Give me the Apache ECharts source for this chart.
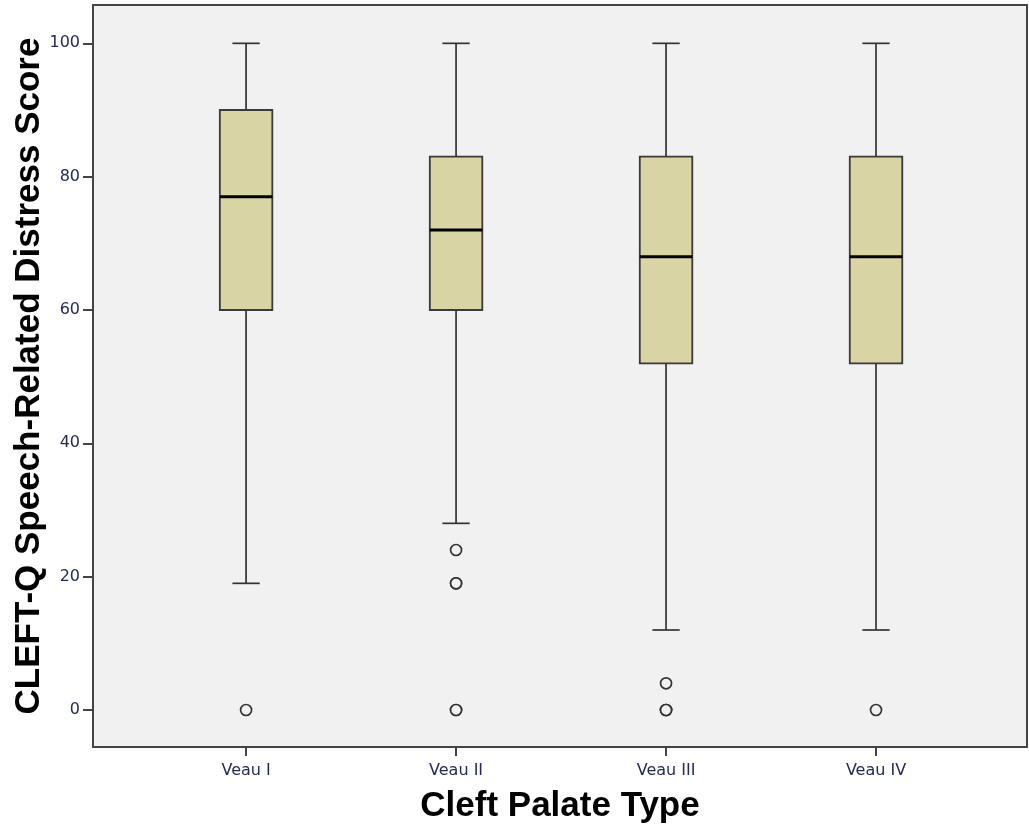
<!DOCTYPE html>
<html><head><meta charset="utf-8">
<script src="https://cdn.jsdelivr.net/npm/echarts@6/dist/echarts.min.js"></script>
<style>html,body{margin:0;padding:0;background:#fff}#c{width:1029px;height:830px}</style>
</head><body><div id="c"></div>
<script>
const categories = ['Veau I', 'Veau II', 'Veau III', 'Veau IV'];
const whiskerLow = [19, 28, 12, 12];
const q1 = [60, 60, 52, 52];
const median = [77, 72, 68, 68];
const q3 = [90, 83, 83, 83];
const whiskerHigh = [100, 100, 100, 100];
// outliers: [categoryIndex, value]
const outliers = [[0, 0], [1, 24], [1, 19], [1, 19], [1, 0], [1, 0], [2, 4], [2, 0], [2, 0], [2, 0], [3, 0]];
const yTicks = [0, 20, 40, 60, 80, 100];

const boxData = categories.map((c, i) => [i, whiskerLow[i], q1[i], median[i], q3[i], whiskerHigh[i]]);

function renderItem(params, api) {
  const x = api.value(0);
  const lo = api.coord([x, api.value(1)]);
  const b1 = api.coord([x, api.value(2)]);
  const md = api.coord([x, api.value(3)]);
  const b3 = api.coord([x, api.value(4)]);
  const hi = api.coord([x, api.value(5)]);
  const band = api.size([1, 0])[0];
  const bw = band * 0.25;
  const cw = band * 0.13;
  const cx = lo[0];
  const lineStyle = { stroke: '#333', lineWidth: 1.7 };
  return {
    type: 'group',
    children: [
      { type: 'line', shape: { x1: cx, y1: hi[1], x2: cx, y2: b3[1] }, style: lineStyle },
      { type: 'line', shape: { x1: cx, y1: lo[1], x2: cx, y2: b1[1] }, style: lineStyle },
      { type: 'line', shape: { x1: cx - cw / 2, y1: hi[1], x2: cx + cw / 2, y2: hi[1] }, style: lineStyle },
      { type: 'line', shape: { x1: cx - cw / 2, y1: lo[1], x2: cx + cw / 2, y2: lo[1] }, style: lineStyle },
      { type: 'rect', shape: { x: cx - bw / 2, y: b3[1], width: bw, height: b1[1] - b3[1] },
        style: { fill: '#d9d4a4', stroke: '#3a3a3a', lineWidth: 1.8 } },
      { type: 'line', shape: { x1: cx - bw / 2, y1: md[1], x2: cx + bw / 2, y2: md[1] }, style: { stroke: '#000', lineWidth: 3 } }
    ]
  };
}

const chart = echarts.init(document.getElementById('c'));
chart.setOption({
  backgroundColor: '#fff',
  animation: false,
  grid: { left: 93, top: 5, right: 2, bottom: 83, containLabel: false, outerBoundsMode: 'none',
    show: true, backgroundColor: '#f1f1f1', borderColor: '#444', borderWidth: 2 },
  xAxis: {
    type: 'value', min: -0.729, max: 3.719,
    axisLine: { show: true, onZero: false, lineStyle: { color: '#444', width: 2 } },
    splitLine: { show: false },
    axisTick: { show: true, customValues: [0, 1, 2, 3], length: 9, lineStyle: { color: '#444', width: 2 } },
    axisLabel: { customValues: [0, 1, 2, 3], formatter: v => categories[Math.round(v)], color: '#262a55', fontFamily: 'DejaVu Sans', fontSize: 16, margin: 16 },
    name: 'Cleft Palate Type', nameLocation: 'middle', nameGap: 42, nameMoveOverlap: false,
    nameTextStyle: { fontFamily: 'Liberation Sans', fontWeight: 'bold', fontSize: 35, color: '#000' }
  },
  yAxis: {
    type: 'value', min: -5.55, max: 105.75,
    axisLine: { show: true, onZero: false, lineStyle: { color: '#444', width: 2 } },
    splitLine: { show: false },
    axisTick: { show: true, customValues: yTicks, length: 10, lineStyle: { color: '#444', width: 2 } },
    axisLabel: { customValues: yTicks, color: '#262a55', fontFamily: 'DejaVu Sans', fontSize: 16, margin: 13 },
    name: 'CLEFT-Q Speech-Related Distress Score', nameLocation: 'middle', nameGap: 46, nameMoveOverlap: false,
    nameTextStyle: { fontFamily: 'Liberation Sans', fontWeight: 'bold', fontSize: 35, color: '#000' }
  },
  series: [
    { type: 'custom', renderItem: renderItem, data: boxData, encode: { x: 0, y: [1, 2, 3, 4, 5] }, z: 2 },
    { type: 'scatter', data: outliers, symbol: 'circle', symbolSize: 11,
      itemStyle: { color: '#f1f1f1', borderColor: '#333', borderWidth: 1.7, opacity: 1 }, z: 3 }
  ]
});
</script></body></html>
